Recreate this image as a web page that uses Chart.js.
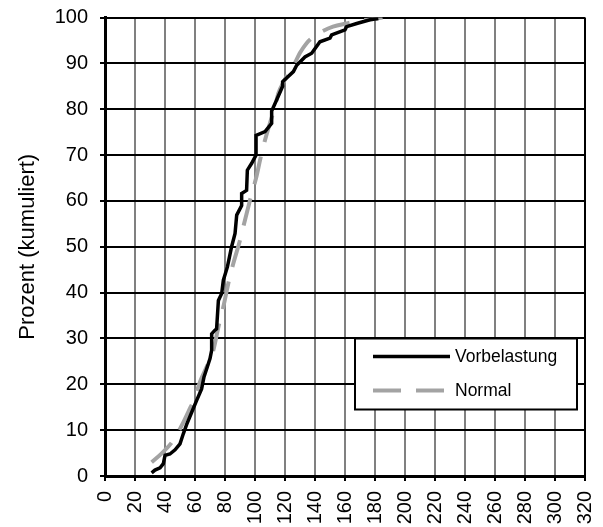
<!DOCTYPE html>
<html>
<head>
<meta charset="utf-8">
<script src="https://cdn.jsdelivr.net/npm/chart.js@4.4.1/dist/chart.umd.min.js"></script>
<style>
  body { margin: 0; background: #fff; }
  canvas { display: block; }
</style>
</head>
<body>
<canvas id="cdfChart" width="603" height="527"></canvas>
<script>
// Werte
const vorbelastungX = [31.1, 33.3, 36.7, 38.9, 40, 43.3, 46.7, 50, 52.2, 54.4, 57.8, 61.1, 64.4, 66, 67.8, 70, 71.1, 71.1, 73.3, 74.4, 75.6, 77.8, 78.9, 81.6, 84.4, 86.7, 87.8, 91.1, 91.1, 94.4, 94.9, 97.8, 100.7, 100.7, 106.7, 111.1, 111.1, 114.4, 118.4, 118.4, 125.6, 127.8, 133.3, 137.8, 143.3, 150, 151.1, 160, 161.1, 167.8, 176.7, 182.2];
const vorbelastungY = [0.7, 1.3, 1.8, 2.7, 4.5, 4.8, 5.7, 7, 9.2, 11.2, 13.9, 16.5, 19, 21.6, 23.4, 25.6, 27.4, 31, 31.8, 32.1, 38.3, 39.8, 42.7, 45.6, 50, 52.9, 56.9, 59, 61.6, 62.3, 66.7, 68.2, 70, 74.3, 75.1, 76.9, 79.6, 82, 85, 86, 88.2, 89.6, 91.4, 92.2, 94.7, 95.5, 96.2, 97.3, 98, 98.7, 99.5, 99.8];

const normalX = [31.1, 38, 45.6, 52.2, 56, 60, 63.3, 67.8, 72.2, 75.6, 78.9, 82.2, 85.5, 90, 93.3, 96.7, 101.1, 103.3, 106.7, 110, 113.3, 115.6, 120, 123.3, 125.6, 130, 134.4, 139, 144.4, 152, 161.1, 170, 181.1, 185];
const normalY = [3, 5, 7.8, 11.7, 14.3, 17.2, 20.5, 23.8, 27.4, 32.5, 36.9, 42, 46.3, 51.4, 55.8, 60.2, 65.5, 68.8, 73.3, 77, 80.5, 83.5, 86.5, 88.5, 89.5, 92.3, 94.4, 95.8, 96.9, 98, 98.7, 99.3, 99.8, 100];

const seriesNames = ['Vorbelastung', 'Normal'];
const xTicks = [0, 320, 20];   // min, max, Schritt
const yTicks = [0, 100, 10];
const yTitle = 'Prozent (kumuliert)';

const FONT = "'Liberation Sans', Arial, sans-serif";

function toPoints(xs, ys) {
    return xs.map((x, i) => ({ x: x, y: ys[i] }));
}

// eigene Legende mit Rahmen im Diagramm
const boxLegend = {
    id: 'boxLegend',
    afterDraw(chart) {
        const ctx = chart.ctx;
        const a = chart.chartArea;
        const left = a.right - 230, top = a.bottom - 137.5, w = 222, h = 71;
        ctx.save();
        ctx.fillStyle = '#ffffff';
        ctx.fillRect(left, top, w, h);
        ctx.strokeStyle = '#000000';
        ctx.lineWidth = 2;
        ctx.strokeRect(left, top, w, h);
        chart.data.datasets.forEach((ds, i) => {
            const y = top + 18 + i * 34;
            ctx.beginPath();
            ctx.setLineDash(ds.borderDash || []);
            ctx.lineWidth = ds.borderWidth;
            ctx.strokeStyle = ds.borderColor;
            ctx.moveTo(left + 18, y);
            ctx.lineTo(left + 95, y);
            ctx.stroke();
            ctx.setLineDash([]);
            ctx.fillStyle = '#000000';
            ctx.font = '17.5px ' + FONT;
            ctx.textBaseline = 'middle';
            ctx.textAlign = 'left';
            ctx.fillText(ds.label, left + 100, y + 1);
        });
        ctx.restore();
    }
};

const ctx = document.getElementById('cdfChart').getContext('2d');
new Chart(ctx, {
    type: 'line',
    data: {
        datasets: [
            {
                label: seriesNames[0],
                data: toPoints(vorbelastungX, vorbelastungY),
                borderColor: '#000000',
                borderWidth: 3.5,
                pointRadius: 0,
                tension: 0,
                fill: false
            },
            {
                label: seriesNames[1],
                data: toPoints(normalX, normalY),
                borderColor: '#a3a3a3',
                borderWidth: 4,
                borderDash: [28, 15],
                borderCapStyle: 'butt',
                pointRadius: 0,
                cubicInterpolationMode: 'monotone',
                fill: false
            }
        ]
    },
    options: {
        responsive: false,
        animation: false,
        devicePixelRatio: 1,
        layout: { padding: { top: 17.5, right: 18, left: 0, bottom: 0 } },
        plugins: {
            legend: { display: false },
            tooltip: { enabled: false }
        },
        scales: {
            x: {
                type: 'linear',
                min: xTicks[0], max: xTicks[1],
                afterFit: s => { s.height = 51; s.paddingLeft = 0; s.paddingRight = 0; },
                ticks: {
                    stepSize: xTicks[2],
                    minRotation: 90, maxRotation: 90,
                    color: '#000', padding: 10,
                    font: { family: FONT, size: 20 }
                },
                grid: {
                    color: c => (c.tick && (c.tick.value === xTicks[0] || c.tick.value === xTicks[1])) ? '#000' : '#808080',
                    lineWidth: 2,
                    tickColor: '#000',
                    tickLength: 5
                },
                border: { color: '#000', width: 3 }
            },
            y: {
                min: yTicks[0], max: yTicks[1],
                afterFit: s => { s.width = 105; s.paddingTop = 0; s.paddingBottom = 0; },
                ticks: {
                    stepSize: yTicks[2],
                    color: '#000', padding: 12,
                    font: { family: FONT, size: 20 }
                },
                grid: {
                    color: '#000',
                    lineWidth: 2,
                    tickColor: '#000',
                    tickLength: 5
                },
                border: { color: '#000', width: 3 },
                title: {
                    display: true,
                    text: yTitle,
                    color: '#000',
                    font: { family: FONT, size: 22 },
                    padding: { top: 15, bottom: 0 }
                }
            }
        }
    },
    plugins: [boxLegend]
});
</script>
</body>
</html>
